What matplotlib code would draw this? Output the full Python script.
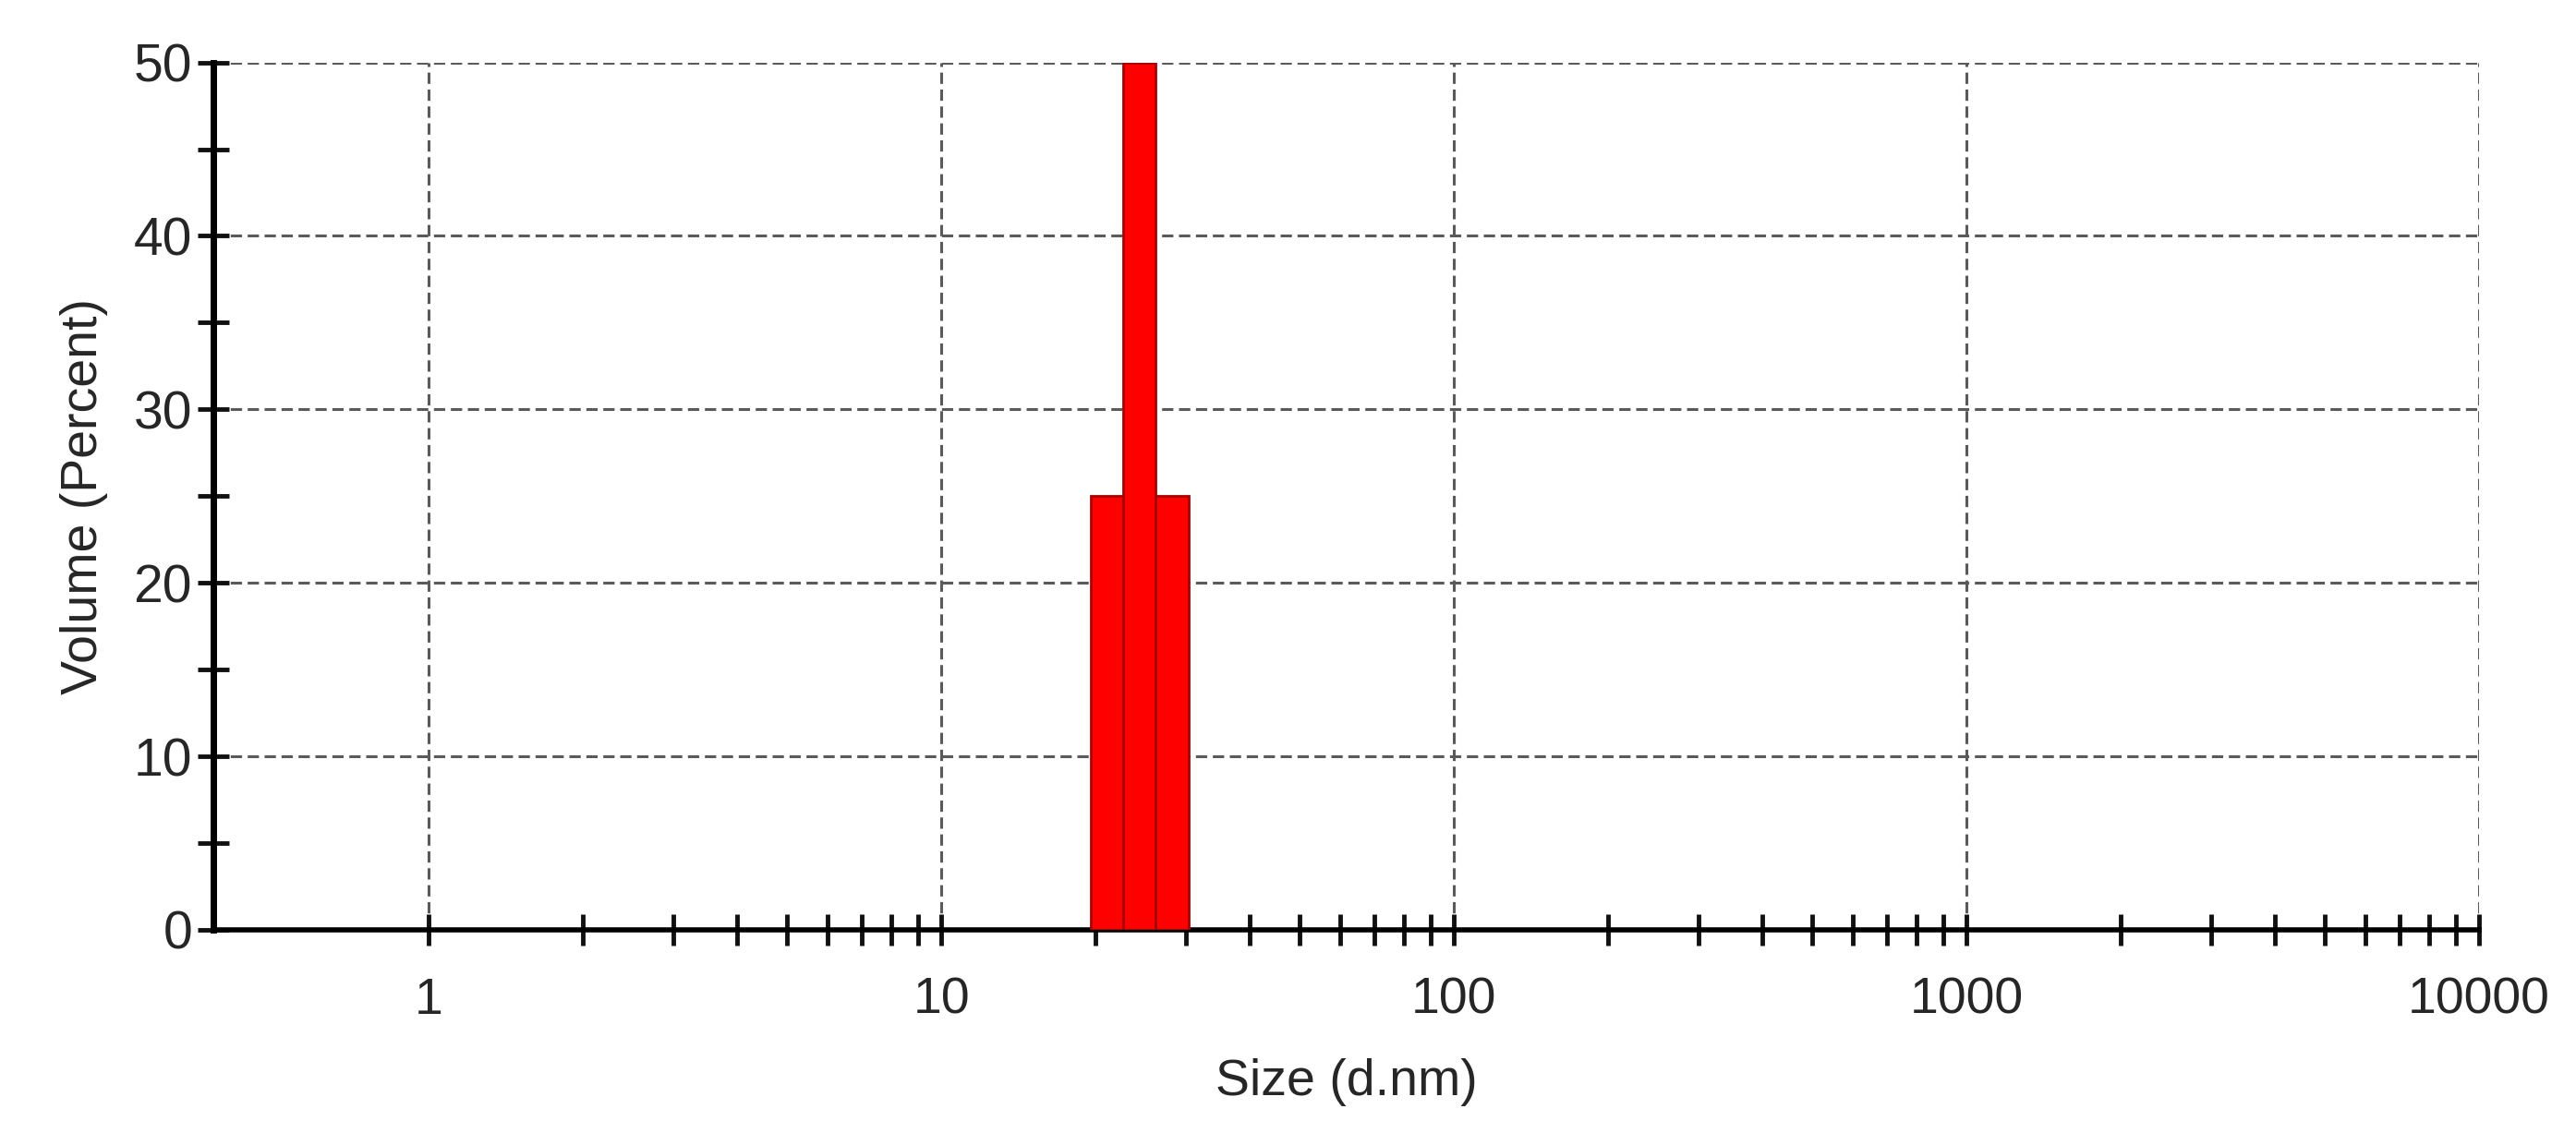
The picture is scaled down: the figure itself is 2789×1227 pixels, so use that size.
import numpy as np
import matplotlib
matplotlib.use("Agg")
import matplotlib.pyplot as plt
from matplotlib.ticker import FixedLocator, NullFormatter

plt.rcParams["font.family"] = ["Liberation Sans", "DejaVu Sans"]

# size distribution by volume (three bins)
bin_edges = [19.55, 22.64, 26.21, 30.36]   # d.nm
volume = [25, 50, 25]                     # percent

x_major = [1, 10, 100, 1000, 10000]
x_minor = [m * 10**k for k in range(0, 4) for m in range(2, 10)]
y_major = [0, 10, 20, 30, 40, 50]
y_minor = [5, 15, 25, 35, 45]

fig = plt.figure(figsize=(27.89, 12.27), dpi=100)
ax = fig.add_axes([0.0828, 0.1793, 0.8796, 0.7656])

left = np.array(bin_edges[:-1])
width = np.diff(bin_edges)
ax.bar(left, volume, width=width, align="edge", color="#ff0000",
       edgecolor="#a80000", linewidth=2, zorder=3)

ax.set_xscale("log")
ax.set_xlim(0.38, 10000)
ax.set_ylim(0, 50)

ax.xaxis.set_major_locator(FixedLocator(x_major))
ax.xaxis.set_minor_locator(FixedLocator(x_minor))
ax.xaxis.set_minor_formatter(NullFormatter())
ax.set_xticklabels([str(v) for v in x_major])
ax.yaxis.set_major_locator(FixedLocator(y_major))
ax.yaxis.set_minor_locator(FixedLocator(y_minor))

ax.grid(True, which="major", color="#5a5a5a", linewidth=2.2,
        linestyle=(0, (4, 2)))
ax.set_axisbelow(True)

for s in ["top", "right"]:
    ax.spines[s].set_visible(False)
ax.spines["left"].set_linewidth(5)
ax.spines["bottom"].set_linewidth(4)

ax.tick_params(axis="both", which="both", direction="inout", length=25,
               width=3.5, color="#111111")
ax.tick_params(axis="x", which="major", labelsize=40, pad=24,
               labelcolor="#262626")
ax.tick_params(axis="y", which="major", labelsize=41, pad=4,
               labelcolor="#262626")

ax.set_xlabel("Size (d.nm)", fontsize=40, color="#262626", labelpad=26)
ax.set_ylabel("Volume (Percent)", fontsize=40, color="#262626", labelpad=20)

fig.savefig("out.png", dpi=100, facecolor="white")
